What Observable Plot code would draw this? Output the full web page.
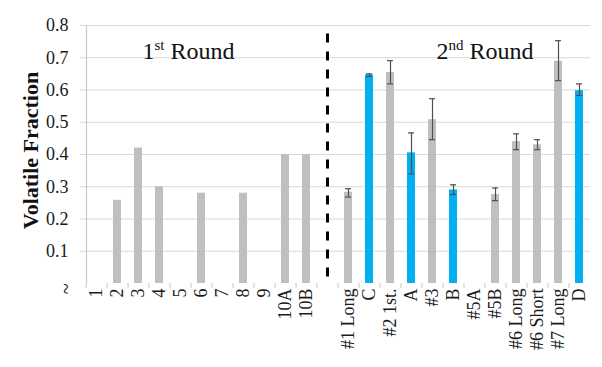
<!DOCTYPE html>
<html><head><meta charset="utf-8">
<script src="https://cdn.jsdelivr.net/npm/d3@7"></script>
<script src="https://cdn.jsdelivr.net/npm/@observablehq/plot@0.6"></script>
<style>body{margin:0;background:#fff}svg{display:block}</style>
</head><body><div id="chart"></div>
<script>
// ---- data ----
const round1Categories = ["1","2","3","4","5","6","7","8","9","10A","10B"];
const round1Values     = [null,0.258,0.42,0.30,null,0.28,null,0.28,null,0.40,0.40];
const gapCategory = " ";
const round2Categories = ["#1 Long","C","#2 1st.","A","#3","B","#5A","#5B","#6 Long","#6 Short","#7 Long","D"];
const round2Values     = [0.283,0.647,0.654,0.405,0.508,0.290,null,0.276,0.440,0.430,0.689,0.598];
const round2ErrLow     = [0.268,0.642,0.619,0.340,0.446,0.276,null,0.257,0.415,0.415,0.629,0.583];
const round2ErrHigh    = [0.294,0.650,0.691,0.467,0.573,0.306,null,0.296,0.464,0.446,0.753,0.619];
const yTicks = [0.1,0.2,0.3,0.4,0.5,0.6,0.7,0.8];
const roundLabels = [{cat:"3", text:"1st Round"}, {cat:"#3", text:"2nd Round"}];

// ---- table ----
const categories = [...round1Categories, gapCategory, ...round2Categories];
const isLetter = c => /^[A-Z]$/.test(c);
const bars = [
  ...round1Categories.map((c,i)=>({cat:c, value:round1Values[i]})),
  ...round2Categories.map((c,i)=>({cat:c, value:round2Values[i], lo:round2ErrLow[i], hi:round2ErrHigh[i]}))
].filter(d => d.value != null);
const grayBars = bars.filter(d => !isLetter(d.cat));
const blueBars = bars.filter(d => isLetter(d.cat));
const errs = bars.filter(d => d.lo != null);

const font = "'Liberation Serif','Times New Roman',serif";
const errColor = "#505050";

const chart = Plot.plot({
  width: 602, height: 367,
  marginLeft: 86, marginRight: 12, marginTop: 25, marginBottom: 84,
  style: {fontFamily: font, background: "white", color: "#1a1a1a"},
  x: {domain: categories, paddingInner: 0.6, paddingOuter: 0.3, axis: null},
  y: {domain: [0, 0.8], axis: null},
  marks: [
    Plot.gridY(yTicks, {stroke: "#d9d9d9", strokeOpacity: 1, strokeWidth: 1.2, insetLeft: -6}),
    Plot.frame({anchor: "left", stroke: "#c8c8c8", strokeWidth: 1.2}),
    Plot.axisY(yTicks, {tickSize: 0, tickPadding: 18, fontSize: 18, tickFormat: d3.format(".1f"), label: null}),
    Plot.text(["~"], {y: () => 0, frameAnchor: "left", dx: -21, rotate: 90, fontSize: 20, fill: "#1a1a1a"}),
    Plot.text(["Volatile Fraction"], {frameAnchor: "left", textAnchor: "middle", dx: -56, dy: -4, rotate: -90, fontSize: 22, fontWeight: "bold", fill: "#111"}),
    Plot.axisX({tickSize: 5, tickFormat: () => "", dx: -10.5, stroke: "#c8c8c8", label: null}),
    Plot.axisX({tickRotate: -90, tickSize: 0, tickPadding: 5, fontSize: 18, label: null}),
    Plot.barY(grayBars, {x: "cat", y: "value", fill: "#bfbfbf"}),
    Plot.barY(blueBars, {x: "cat", y: "value", fill: "#00b0f0"}),
    Plot.ruleX(errs, {x: "cat", y1: "lo", y2: "hi", stroke: errColor, strokeWidth: 1.2}),
    Plot.tickY(errs, {x: "cat", y: "lo", stroke: errColor, strokeWidth: 1.2, insetLeft: 1, insetRight: 1}),
    Plot.tickY(errs, {x: "cat", y: "hi", stroke: errColor, strokeWidth: 1.2, insetLeft: 1, insetRight: 1}),
    Plot.ruleX([gapCategory], {x: d => d, y1: () => 0.02, y2: () => 0.79, stroke: "black", strokeWidth: 3, strokeDasharray: "9,9"}),
    Plot.text(roundLabels, {x: "cat", y: () => 0.72, text: "text", textAnchor: "start", dx: 4, fontSize: 24, fill: "#111"})
  ]
});
document.getElementById("chart").appendChild(chart);

// superscripts for ordinal suffixes
chart.querySelectorAll("text").forEach(t => {
  const m = /^(\d)(st|nd|rd|th) (.*)$/.exec(t.textContent);
  if (!m) return;
  t.textContent = "";
  const ns = "http://www.w3.org/2000/svg";
  const a = document.createElementNS(ns, "tspan"); a.textContent = m[1];
  const b = document.createElementNS(ns, "tspan"); b.textContent = m[2];
  b.setAttribute("font-size", "15"); b.setAttribute("dy", "-9");
  const c = document.createElementNS(ns, "tspan"); c.textContent = " " + m[3];
  c.setAttribute("dy", "9");
  t.append(a, b, c);
});
</script>
</body></html>
